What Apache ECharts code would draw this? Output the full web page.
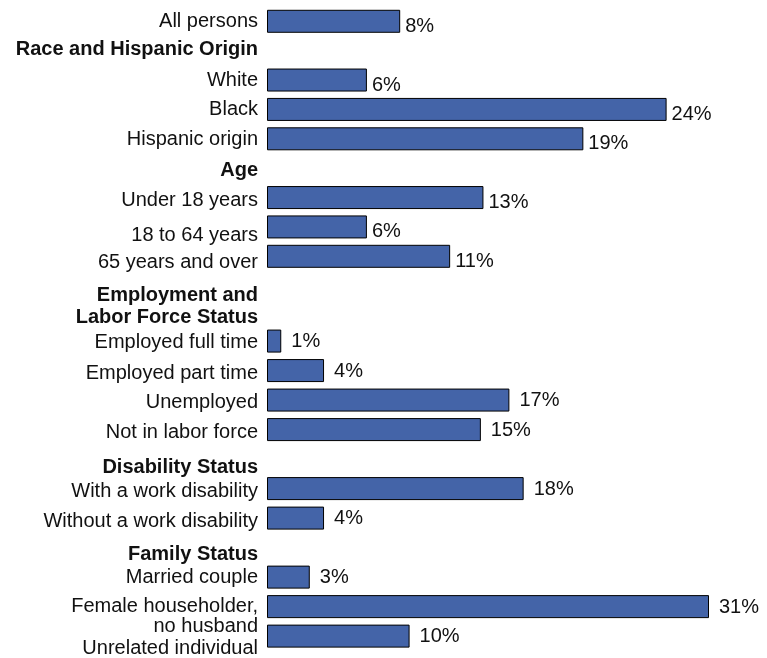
<!DOCTYPE html>
<html>
<head>
<meta charset="utf-8">
<script src="https://cdn.jsdelivr.net/npm/echarts@6/dist/echarts.min.js"></script>
<style>
  html, body { margin: 0; padding: 0; background: #fff; }
  #main { width: 767px; height: 658px; }
</style>
</head>
<body>
<div id="main"></div>
<script>
// upper block (own scale)
var topCategories = ['All persons', 'Race and Hispanic Origin', 'White', 'Black', 'Hispanic origin',
  'Age', 'Under 18 years', '18 to 64 years', '65 years and over'];
var topValues = [8, '-', 6, 24, 19, '-', 13, 6, 11];

// lower block (drawn on a tighter scale in the original)
var bottomCategories = ['Employment and', 'Labor Force Status', 'Employed full time', 'Employed part time',
  'Unemployed', 'Not in labor force', 'Disability Status', 'With a work disability',
  'Without a work disability', 'Family Status', 'Married couple', 'Female householder,\nno husband',
  'Unrelated individual'];
var bottomValues = ['-', '-', 1, 4, 17, 15, '-', 18, 4, '-', 3, 31, 10];

var headings = ['Race and Hispanic Origin', 'Age', 'Employment and', 'Labor Force Status',
  'Disability Status', 'Family Status'];

// small vertical nudges of the row labels (px, + = down)
var labelNudge = {
  'All persons': -1.5, 'Race and Hispanic Origin': -2.5, 'White': -1.5, 'Black': -1, 'Hispanic origin': -1,
  'Age': 1, 'Under 18 years': 1.5, '18 to 64 years': 7, '65 years and over': 4.5,
  'Employment and': 11.5, 'Labor Force Status': 4.5, 'Employed part time': 1, 'Unemployed': 1,
  'Not in labor force': 1, 'Disability Status': 6.5, 'With a work disability': 1,
  'Without a work disability': 1.5, 'Family Status': 5, 'Married couple': -1.5,
  'Female householder,\nno husband': 8, 'Unrelated individual': 10.5
};
var NUDGE_BASE = 1.5;

var FONT = '"Liberation Sans", Arial, sans-serif';
var BAR = '#4464a8';

function rowLabels(cats) {
  var rich = {};
  cats.forEach(function (c, i) {
    var s = (labelNudge[c] || 0) + NUDGE_BASE;
    var w = headings.indexOf(c) >= 0 ? 'bold' : 'normal';
    rich['a' + i] = {
      fontFamily: FONT, fontSize: 20, fontWeight: w, color: '#111',
      padding: [s > 0 ? 2 * s : 0, 0, s < 0 ? -2 * s : 0, 0]
    };
    rich['b' + i] = { fontFamily: FONT, fontSize: 20, fontWeight: w, color: '#111', lineHeight: 20 };
  });
  return {
    interval: 0,
    margin: 9,
    formatter: function (v, i) {
      return v.split('\n').map(function (l, k) {
        return '{' + (k ? 'b' : 'a') + i + '|' + l + '}';
      }).join('\n');
    },
    rich: rich
  };
}

function barSeries(idx, values, dist, off) {
  return {
    type: 'bar',
    xAxisIndex: idx,
    yAxisIndex: idx,
    data: values,
    barWidth: 23,
    silent: true,
    itemStyle: { color: BAR, borderColor: '#000', borderWidth: 1 },
    label: {
      show: true, position: 'right', distance: dist, offset: off,
      formatter: '{c}%', fontFamily: FONT, fontSize: 20, color: '#111'
    }
  };
}

var myChart = echarts.init(document.getElementById('main'));

var option = {
  animation: false,
  backgroundColor: '#fff',
  grid: [
    { left: 267, top: 6.6, width: 466.2, height: 264.4 },
    { left: 267, top: 267.3, width: 442, height: 386.75 }
  ],
  xAxis: [
    { type: 'value', gridIndex: 0, min: 0, max: 28, show: false },
    { type: 'value', gridIndex: 1, min: 0, max: 31, show: false }
  ],
  yAxis: [
    {
      type: 'category', gridIndex: 0, inverse: true, data: topCategories,
      axisLine: { show: false }, axisTick: { show: false }, splitLine: { show: false },
      axisLabel: rowLabels(topCategories)
    },
    {
      type: 'category', gridIndex: 1, inverse: true, data: bottomCategories,
      axisLine: { show: false }, axisTick: { show: false }, splitLine: { show: false },
      axisLabel: rowLabels(bottomCategories)
    }
  ],
  series: [
    barSeries(0, topValues, 5, [0, 5]),
    barSeries(1, bottomValues, 10, [0, 0.5])
  ]
};
myChart.setOption(option);
</script>
</body>
</html>
